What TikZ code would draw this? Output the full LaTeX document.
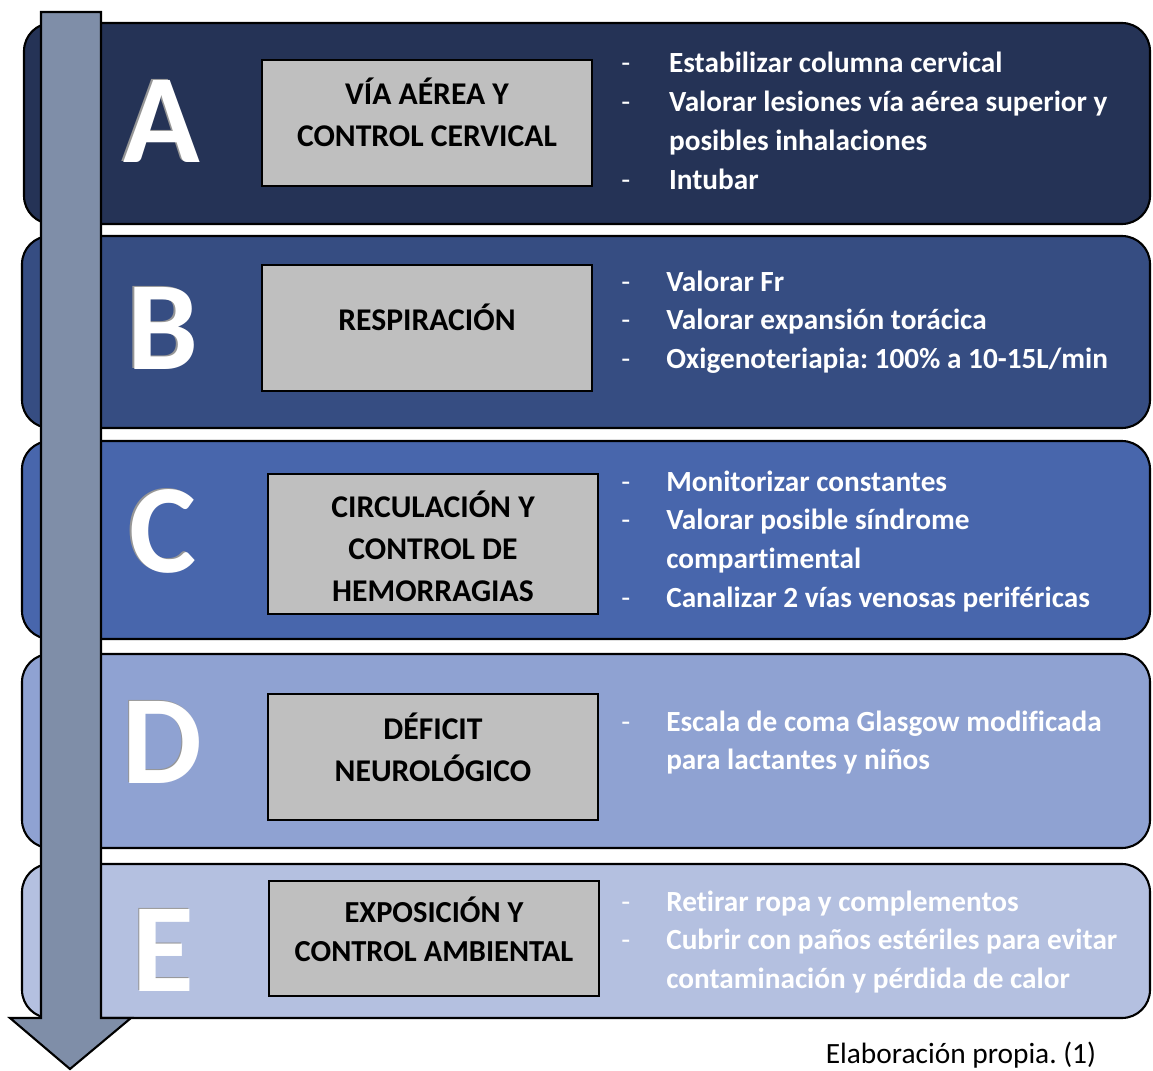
\documentclass[tikz,border=0pt]{standalone}
\usepackage{fontspec}
\setmainfont[Ligatures=NoCommon]{Carlito}
\usepackage{array}
\frenchspacing
\definecolor{colA}{RGB}{37,51,86}
\definecolor{colB}{RGB}{54,77,130}
\definecolor{colC}{RGB}{72,102,172}
\definecolor{colD}{RGB}{143,162,210}
\definecolor{colE}{RGB}{180,192,224}
\definecolor{flecha}{RGB}{127,142,168}
\definecolor{gris}{RGB}{191,191,191}
\definecolor{sombra}{RGB}{150,150,150}
\newcommand{\relieve}[1]{\rlap{\textcolor{sombra}{#1}}\kern1pt\raisebox{-1pt}{#1}}
\newcommand{\guion}{{\mdseries -}}
\tikzset{
	panel/.style={draw=black,line width=1.5pt,rounded corners=20pt},
	caja/.style={draw=black,line width=1.5pt,fill=gris,minimum width=8.25cm,inner sep=0pt},
	titulo/.style={align=center,inner sep=0pt,font=\fontsize{22.5}{30}\selectfont\bfseries},
	letra/.style={white,inner sep=0pt,font=\fontsize{90}{90}\selectfont\bfseries},
	lista/.style={white,inner sep=0pt,anchor=base west,font=\fontsize{20.8}{27.5}\selectfont\bfseries}
}
\begin{document}
\begin{tikzpicture}[x=0.025cm,y=-0.025cm]
	\useasboundingbox (0,0) rectangle (1153,1071);
	%panels
	\draw[panel,fill=colA] (24,23) rectangle (1150,224);
	\draw[panel,fill=colB] (22,236) rectangle (1150,428);
	\draw[panel,fill=colC] (22,441) rectangle (1150,639);
	\draw[panel,fill=colD] (22,654) rectangle (1150,848);
	\draw[panel,fill=colE] (22,864) rectangle (1150,1018);
	
	%arrow
	\draw[line width=1.5pt,fill=flecha] (41,12)--(101,12)--(101,1018)--(131,1018)--(70,1069)--(10,1018)--(41,1018)--cycle;
	
	%letters
	\node[letra] (letraA) at (161,121) {\relieve{A}};
	\node[letra] (letraB) at (162,328) {\relieve{B}};
	\node[letra] (letraC) at (162,531) {\relieve{C}};
	\node[letra] (letraD) at (162,742) {\relieve{D}};
	\node[letra] (letraE) at (163,950) {\relieve{E}};
	
	%boxes
	\node[caja,minimum height=3.15cm] (cajaA) at (427,123) {};
	\node[caja,minimum height=3.15cm] (cajaB) at (427,328) {};
	\node[caja,minimum height=3.5cm] (cajaC) at (433,544) {};
	\node[caja,minimum height=3.15cm] (cajaD) at (433,757) {};
	\node[caja,minimum height=2.875cm] (cajaE) at (434,938.5) {};
	\node[titulo] (tituloA) at (cajaA.center) [yshift=7.5pt] {VÍA AÉREA Y\\CONTROL CERVICAL};
	\node[titulo] (tituloB) at (cajaB.center) [yshift=7.5pt] {RESPIRACIÓN};
	\node[titulo] (tituloC) at (cajaC.center) [yshift=-1.5pt] {CIRCULACIÓN Y\\CONTROL DE\\HEMORRAGIAS};
	\node[titulo] (tituloD) at (cajaD.center) [yshift=7pt] {DÉFICIT\\NEUROLÓGICO};
	\node[titulo,font=\fontsize{21.7}{27.7}\selectfont\bfseries] (tituloE) at (cajaE.center) [yshift=6.5pt] {EXPOSICIÓN Y\\CONTROL AMBIENTAL};
	
	%lists
	\node[lista] (listaA) at (621,73) {\begin{tabular}[t]{@{}p{34pt}@{}l@{}}
	\guion & Estabilizar columna cervical\\
	\guion & Valorar lesiones vía aérea superior y\\
	       & posibles inhalaciones\\
	\guion & Intubar
	\end{tabular}};
	\node[lista] (listaB) at (621,291) {\begin{tabular}[t]{@{}p{32pt}@{}l@{}}
	\guion & Valorar Fr\\
	\guion & Valorar expansión torácica\\
	\guion & Oxigenoteriapia: 100\% a 10-15L/min
	\end{tabular}};
	\node[lista] (listaC) at (621,491) {\begin{tabular}[t]{@{}p{32pt}@{}l@{}}
	\guion & Monitorizar constantes\\
	\guion & Valorar posible síndrome\\
	       & compartimental\\
	\guion & Canalizar 2 vías venosas periféricas
	\end{tabular}};
	\node[lista] (listaD) at (621,731) {\begin{tabular}[t]{@{}p{32pt}@{}l@{}}
	\guion & Escala de coma Glasgow modificada\\
	       & para lactantes y niños
	\end{tabular}};
	\node[lista] (listaE) at (621,911) {\begin{tabular}[t]{@{}p{32pt}@{}l@{}}
	\guion & Retirar ropa y complementos\\
	\guion & Cubrir con paños estériles para evitar\\
	       & contaminación y pérdida de calor
	\end{tabular}};
	
	\node[font=\fontsize{20.9}{25}\selectfont,inner sep=0pt] (fuente) at (961,1055) {Elaboración propia. (1)};
\end{tikzpicture}
\end{document}
